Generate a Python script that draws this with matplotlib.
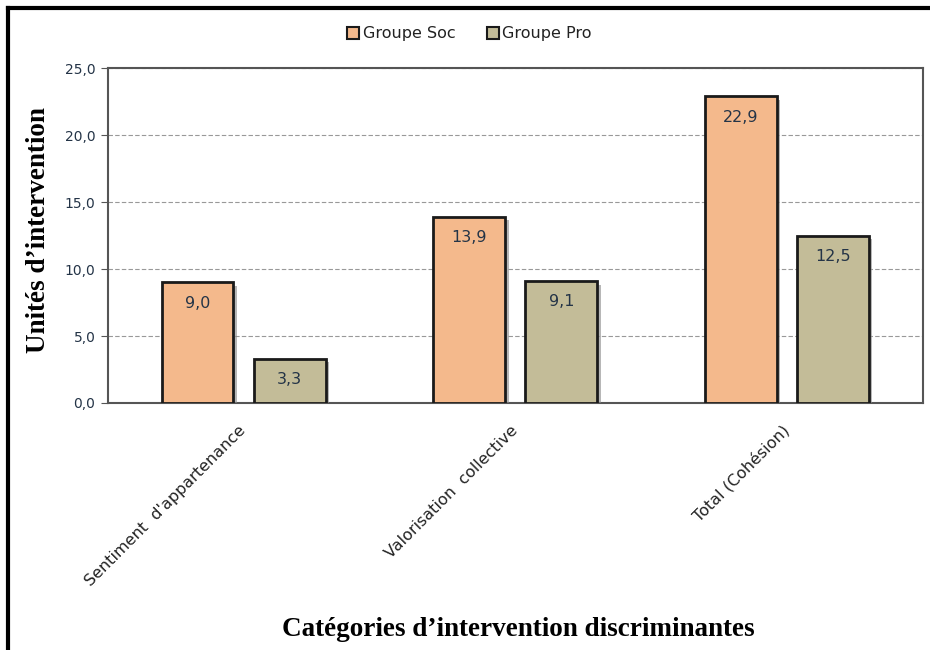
import matplotlib.pyplot as plt
import matplotlib.patheffects as pe
import numpy as np

categories = ["Sentiment  d'appartenance", "Valorisation  collective", "Total (Cohésion)"]
soc_values = [9.0, 13.9, 22.9]
pro_values = [3.3, 9.1, 12.5]
series_names = ["Groupe Soc", "Groupe Pro"]
y_ticks = [0, 5, 10, 15, 20, 25]

SOC_COLOR = "#F4B98C"
PRO_COLOR = "#C3BC98"
TXT_COLOR = "#243447"

fig = plt.figure(figsize=(9.3, 6.5), dpi=100)
ax = fig.add_axes([0.116, 0.38, 0.876, 0.515])

x = np.arange(len(categories))
width = 0.265
offset = 0.17
shadow = [pe.SimplePatchShadow(offset=(2.5, -2.5), shadow_rgbFace="#888888", alpha=0.6), pe.Normal()]

bars_soc = ax.bar(x - offset, soc_values, width, color=SOC_COLOR, edgecolor="#1a1a1a",
                  linewidth=2, label=series_names[0], zorder=3, path_effects=shadow)
bars_pro = ax.bar(x + offset, pro_values, width, color=PRO_COLOR, edgecolor="#1a1a1a",
                  linewidth=2, label=series_names[1], zorder=3, path_effects=shadow)

for bars, vals in ((bars_soc, soc_values), (bars_pro, pro_values)):
    for b, v in zip(bars, vals):
        ax.annotate(f"{v:.1f}".replace(".", ","), (b.get_x() + b.get_width() / 2, v),
                    xytext=(0, -15), textcoords="offset points", ha="center", va="center",
                    fontsize=11.5, color=TXT_COLOR, zorder=4)

ax.set_xlim(-0.5, len(categories) - 0.5)
ax.set_ylim(0, 25)
ax.set_yticks(y_ticks)
ax.set_yticklabels([f"{t:.1f}".replace(".", ",") for t in y_ticks], fontsize=10, color=TXT_COLOR)
ax.yaxis.grid(True, linestyle=(0, (4, 2)), color="#999999", linewidth=0.8, zorder=0)
ax.tick_params(axis="y", length=5, color="#555555", pad=4)
ax.tick_params(axis="x", length=0, pad=14)
ax.set_xticks(x - 0.02)
ax.set_xticklabels(categories, rotation=45, ha="right", rotation_mode="anchor",
                   fontsize=11.5, color="#222222")

for side in ax.spines.values():
    side.set_color("#555555")
    side.set_linewidth(1.5)

fig.text(0.041, 0.646, "Unités d’intervention", family="Liberation Serif", fontweight="bold",
         fontsize=19.5, rotation=90, ha="center", va="center")
fig.text(0.557, 0.032, "Catégories d’intervention discriminantes", family="Liberation Serif",
         fontweight="bold", fontsize=19.5, ha="center", va="center")

leg = fig.legend(handles=[bars_soc, bars_pro], loc="center", bbox_to_anchor=(0.505, 0.948),
                 ncol=2, frameon=False, fontsize=11.5, handlelength=0.75, handleheight=0.75,
                 handletextpad=0.2, columnspacing=2.0)
for h in leg.legend_handles:
    h.set_path_effects([])
    h.set_linewidth(1.5)
for t in leg.get_texts():
    t.set_color("#222222")

# outer frame lines (top and left)
fig.add_artist(plt.Line2D([0.009, 0.998], [0.988, 0.988], color="black", linewidth=3,
                          transform=fig.transFigure))
fig.add_artist(plt.Line2D([0.009, 0.009], [0.0, 0.988], color="black", linewidth=3,
                          transform=fig.transFigure))

fig.savefig("out.png", dpi=100)
